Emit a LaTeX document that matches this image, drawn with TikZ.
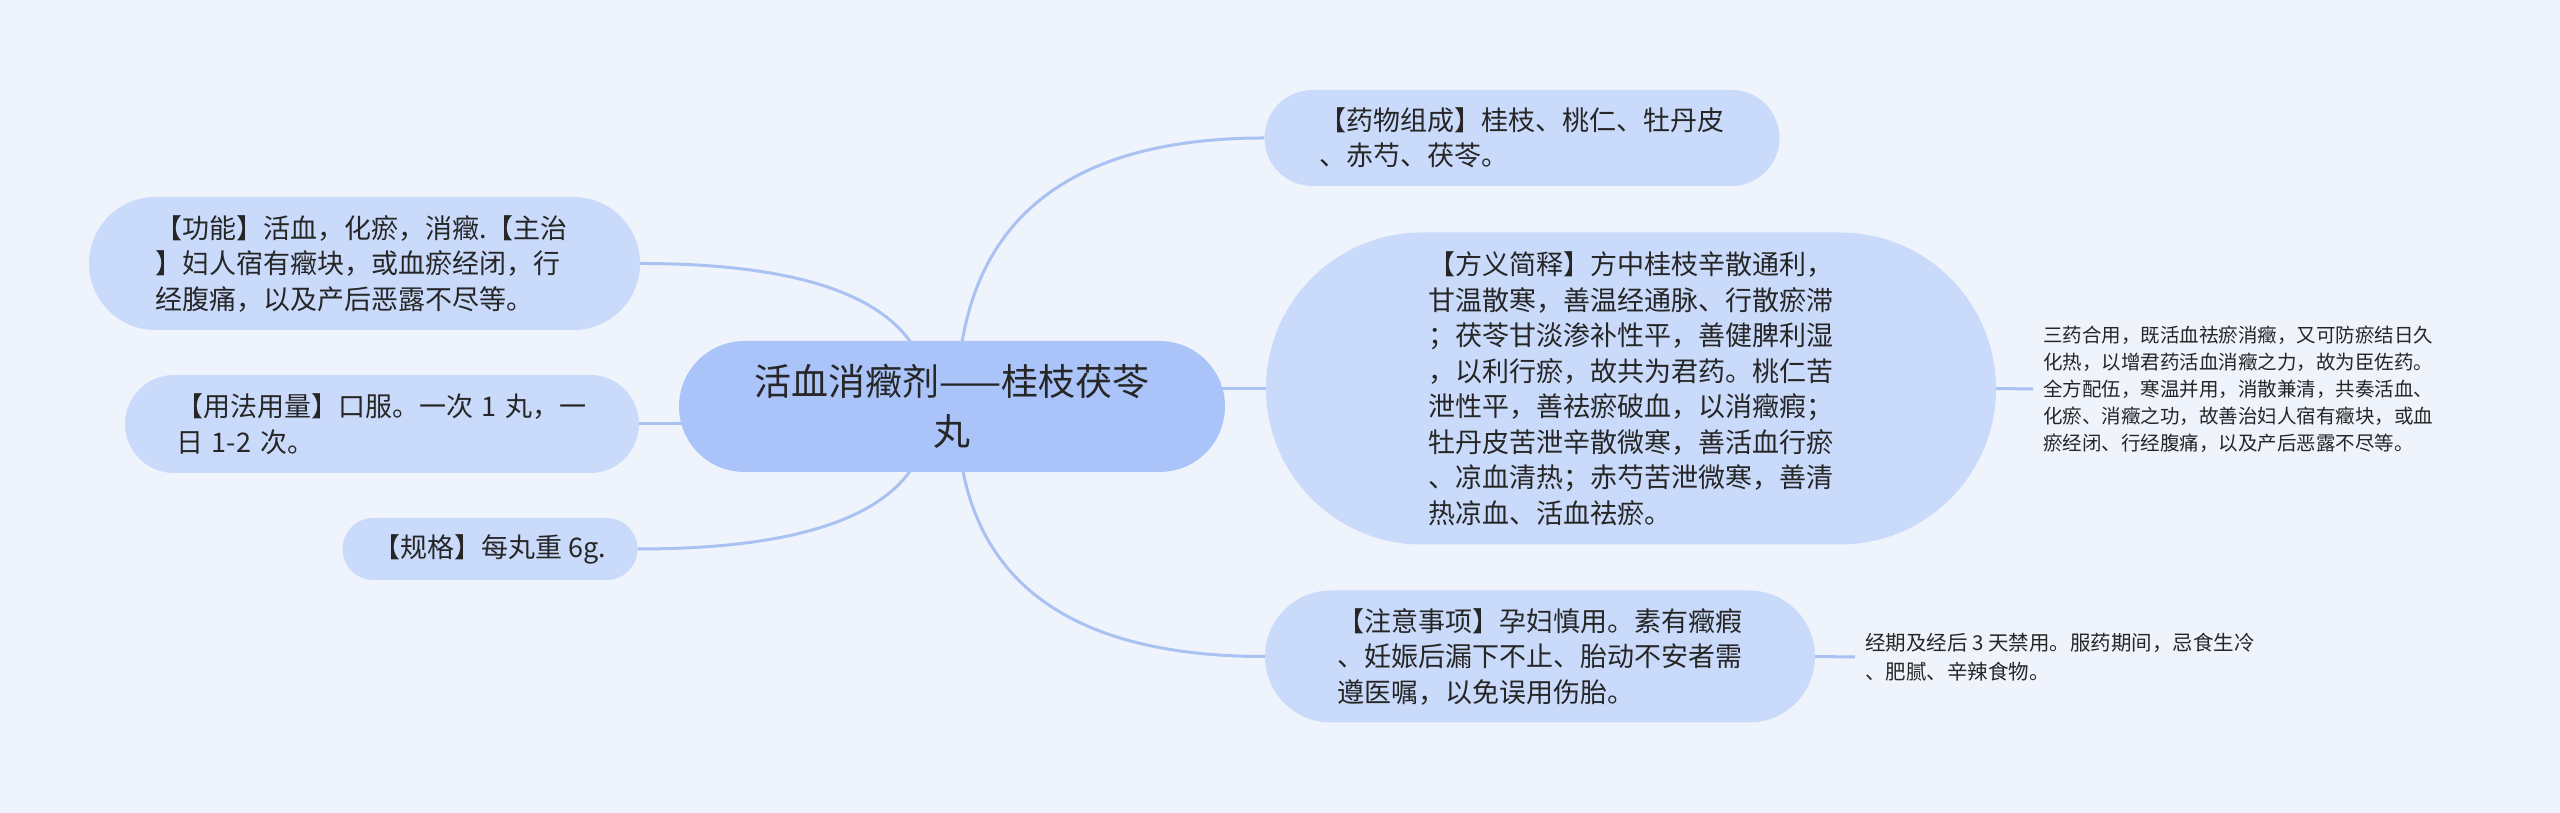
\documentclass[tikz,border=0pt]{standalone}
\usepackage{fontspec}
\newfontfamily\cjk{Noto Sans CJK SC}
\usetikzlibrary{backgrounds,calc}
\definecolor{bgc}{HTML}{EFF3FC}
\definecolor{rootc}{HTML}{AAC4FA}
\definecolor{subc}{HTML}{CADAFA}
\definecolor{linec}{HTML}{A9C2F2}
\definecolor{txtc}{HTML}{262626}
\begin{document}
\begin{tikzpicture}[x=1pt,y=1pt,
  every node/.style={text=txtc},
  pill/.style={fill=subc, draw=none, inner sep=0pt, align=left, font=\cjk\fontsize{27}{35.5}\selectfont},
  rootbox/.style={fill=rootc, draw=none, inner sep=0pt, align=center, font=\cjk\fontsize{37}{50}\selectfont},
  note/.style={inner sep=10pt, align=left, anchor=west, font=\cjk\fontsize{19.5}{27}\selectfont},
  link/.style={draw=linec, line width=3pt}
]
\useasboundingbox (0,0) rectangle (2560,813);

\node[rootbox, minimum width=546pt, minimum height=131pt, rounded corners=65.5pt] (root) at (952,406.5) {活血消癥剂——桂枝茯苓\\丸};

\node[pill, text width=419pt, minimum width=551pt, minimum height=133pt, rounded corners=66.5pt] (gn) at (364.5,549.5)
 {【功能】活血，化瘀，消癥.【主治\\】妇人宿有癥块，或血瘀经闭，行\\经腹痛，以及产后恶露不尽等。};
\node[pill, text width=412pt, minimum width=514pt, minimum height=98pt, rounded corners=49pt] (yf) at (382,389)
 {\mbox{【用法用量】口服。一次 1 丸，一}\\日 1-2 次。};
\node[pill, align=center, minimum width=295pt, minimum height=62pt, rounded corners=31pt] (gg) at (490,264)
 {【规格】每丸重 6g.};

\node[pill, text width=405pt, minimum width=515pt, minimum height=96pt, rounded corners=48pt] (yw) at (1522,675)
 {【药物组成】桂枝、桃仁、牡丹皮\\、赤芍、茯苓。};
\node[pill, text width=405pt, minimum width=730pt, minimum height=312pt, rounded corners=156pt] (fy) at (1631,424.5)
 {【方义简释】方中桂枝辛散通利，\\甘温散寒，善温经通脉、行散瘀滞\\；茯苓甘淡渗补性平，善健脾利湿\\，以利行瘀，故共为君药。桃仁苦\\泄性平，善祛瘀破血，以消癥瘕；\\牡丹皮苦泄辛散微寒，善活血行瘀\\、凉血清热；赤芍苦泄微寒，善清\\热凉血、活血祛瘀。};
\node[pill, text width=405pt, minimum width=550pt, minimum height=132pt, rounded corners=66pt] (zy) at (1540,156.5)
 {【注意事项】孕妇慎用。素有癥瘕\\、妊娠后漏下不止、胎动不安者需\\遵医嘱，以免误用伤胎。};

\node[note] (sy) at (2033,424)
 {三药合用，既活血祛瘀消癥，又可防瘀结日久\\化热，以增君药活血消癥之力，故为臣佐药。\\全方配伍，寒温并用，消散兼清，共奏活血、\\化瘀、消癥之功，故善治妇人宿有癥块，或血\\瘀经闭、行经腹痛，以及产后恶露不尽等。};
\node[note, font=\cjk\fontsize{20.5}{29}\selectfont] (jq) at (1855,156)
 {经期及经后 3 天禁用。服药期间，忌食生冷\\、肥腻、辛辣食物。};

\begin{pgfonlayer}{background}
 \fill[bgc] (0,0) rectangle (2560,813);
 \coordinate (rs) at (957,406.5);
 \coordinate (ls) at (930,406.5);
 \draw[link] (rs) .. controls ($(rs)!0.6667!(rs|-yw.west)$) and ($(yw.west)!0.6667!(rs|-yw.west)$) .. (yw.west);
 \draw[link] (rs) .. controls ($(rs)!0.6667!(rs|-zy.west)$) and ($(zy.west)!0.6667!(rs|-zy.west)$) .. (zy.west);
 \draw[link] (ls) .. controls ($(ls)!0.6667!(ls|-gn.east)$) and ($(gn.east)!0.6667!(ls|-gn.east)$) .. (gn.east);
 \draw[link] (ls) .. controls ($(ls)!0.6667!(ls|-gg.east)$) and ($(gg.east)!0.6667!(ls|-gg.east)$) .. (gg.east);
 \draw[link] (rs|-fy.west) -- (fy.west);
 \draw[link] (ls|-yf.east) -- (yf.east);
 \draw[link] (fy.east) -- (sy.west);
 \draw[link] (zy.east) -- (jq.west);
\end{pgfonlayer}
\end{tikzpicture}
\end{document}
